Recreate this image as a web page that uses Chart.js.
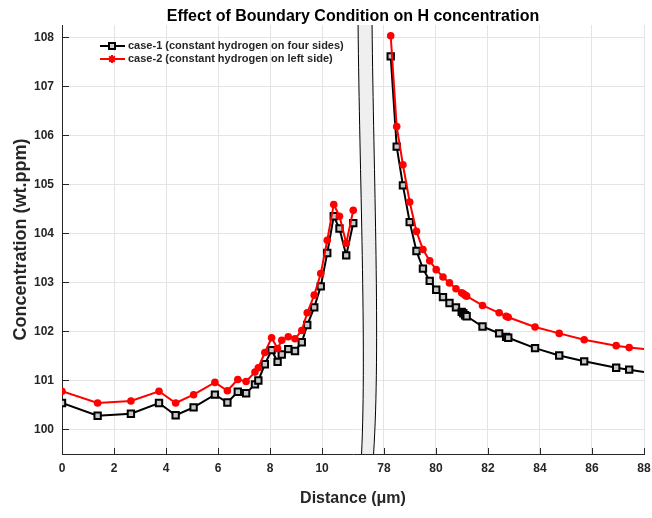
<!DOCTYPE html>
<html>
<head>
<meta charset="utf-8">
<script src="https://cdn.jsdelivr.net/npm/chart.js@4.4.1/dist/chart.umd.min.js"></script>
<style>
html,body{margin:0;padding:0;background:#fff;}
#wrap{width:652px;height:518px;position:relative;}
</style>
</head>
<body>
<div id="wrap"><canvas id="c" width="652" height="518"></canvas></div>
<script>
// ---- data ----
const distanceLeft = [0, 1.37, 2.65, 3.73, 4.37, 5.06, 5.88, 6.36, 6.76, 7.08, 7.42, 7.55, 7.8, 8.06, 8.29, 8.45, 8.7, 8.96, 9.22, 9.43, 9.7, 9.95, 10.2, 10.45, 10.67, 10.93, 11.2];
const case1Left = [100.54, 100.28, 100.32, 100.54, 100.29, 100.45, 100.71, 100.55, 100.77, 100.74, 100.92, 101.0, 101.33, 101.62, 101.38, 101.53, 101.64, 101.6, 101.78, 102.13, 102.49, 102.92, 103.6, 104.35, 104.1, 103.55, 104.21];
const case2Left = [100.78, 100.54, 100.58, 100.78, 100.54, 100.71, 100.96, 100.79, 101.02, 100.98, 101.17, 101.26, 101.57, 101.87, 101.65, 101.82, 101.89, 101.85, 102.02, 102.38, 102.74, 103.18, 103.86, 104.59, 104.35, 103.8, 104.47];

const distanceRight = [78.26, 78.49, 78.73, 78.99, 79.25, 79.5, 79.76, 80.01, 80.27, 80.52, 80.77, 80.99, 81.05, 81.12, 81.18, 81.79, 82.43, 82.7, 82.78, 83.81, 84.74, 85.7, 86.93, 87.43, 88.0];
const case1Right = [107.61, 105.77, 104.98, 104.23, 103.64, 103.28, 103.03, 102.85, 102.7, 102.58, 102.49, 102.4, 102.37, 102.33, 102.31, 102.1, 101.96, 101.89, 101.87, 101.66, 101.51, 101.39, 101.26, 101.22, 101.17];
const case2Right = [108.03, 106.18, 105.4, 104.64, 104.04, 103.67, 103.44, 103.26, 103.11, 102.99, 102.87, 102.79, 102.77, 102.74, 102.72, 102.53, 102.38, 102.31, 102.29, 102.09, 101.96, 101.83, 101.71, 101.67, 101.64];

const xTickLabels = [0, 2, 4, 6, 8, 10, 78, 80, 82, 84, 86, 88];
const yTickLabels = [100, 101, 102, 103, 104, 105, 106, 107, 108];
const seriesNames = ['case-1 (constant hydrogen on four sides)', 'case-2 (constant hydrogen on left side)'];
const chartTitle = 'Effect of Boundary Condition on H concentration';
const xTitle = 'Distance (\u03BCm)';
const yTitle = 'Concentration (wt.ppm)';

// ---- broken x axis: values beyond the break are shifted left ----
const BREAK_SHIFT = 65.62;
const BREAK_AT = 11.75;          // axis position of the break marker
const X_END = 88;
function toAxis(d) { return d > 40 ? d - BREAK_SHIFT : d; }
function fromAxis(v) { return v > 12 ? v + BREAK_SHIFT : v; }

function buildPoints(xl, yl, xr, yr) {
  const pts = xl.map((d, i) => ({x: toAxis(d), y: yl[i]}));
  pts.push({x: BREAK_AT, y: null});
  xr.forEach((d, i) => pts.push({x: toAxis(d), y: yr[i]}));
  return pts;
}
const pts1 = buildPoints(distanceLeft, case1Left, distanceRight, case1Right);
const pts2 = buildPoints(distanceLeft, case2Left, distanceRight, case2Right);
const hideEnd = (pts, r) => pts.map(p => (p.x >= toAxis(X_END) - 1e-6 ? 0 : r));

const FONT = "'Liberation Sans', Arial, Helvetica, sans-serif";
const AXIS_COLOR = '#262626';

const breakPlugin = {
  id: 'breakMark',
  afterDatasetsDraw(chart) {
    const {ctx, chartArea: a, scales: {x}} = chart;
    const c = x.getPixelForValue(BREAK_AT);
    const top = a.top, bot = a.bottom, h = bot - top;
    const L = [[-9.5, 0], [-8, 0.35], [-1, 0.75], [-6, 1]];
    const R = [[4.5, 0], [6, 0.35], [13, 0.75], [6, 1]];
    const P = (p) => [c + p[0], top + p[1] * h];
    ctx.save();
    ctx.beginPath();
    ctx.moveTo(...P(L[0]));
    ctx.bezierCurveTo(...P(L[1]), ...P(L[2]), ...P(L[3]));
    ctx.lineTo(...P(R[3]));
    ctx.bezierCurveTo(...P(R[2]), ...P(R[1]), ...P(R[0]));
    ctx.closePath();
    ctx.fillStyle = '#efefef';
    ctx.fill();
    ctx.lineWidth = 1;
    ctx.strokeStyle = '#000';
    ctx.beginPath();
    ctx.moveTo(...P(L[0]));
    ctx.bezierCurveTo(...P(L[1]), ...P(L[2]), ...P(L[3]));
    ctx.moveTo(...P(R[0]));
    ctx.bezierCurveTo(...P(R[1]), ...P(R[2]), ...P(R[3]));
    ctx.stroke();
    ctx.restore();
  }
};

const tickPlugin = {
  id: 'inwardTicks',
  afterDraw(chart) {
    const {ctx, chartArea: a, scales: {x, y}} = chart;
    ctx.save();
    ctx.strokeStyle = AXIS_COLOR;
    ctx.lineWidth = 1;
    ctx.beginPath();
    x.ticks.forEach(t => {
      const px = Math.round(x.getPixelForValue(t.value)) + 0.5;
      ctx.moveTo(px, a.bottom);
      ctx.lineTo(px, a.bottom - 6);
    });
    y.ticks.forEach(t => {
      const py = Math.round(y.getPixelForValue(t.value)) + 0.5;
      ctx.moveTo(a.left, py);
      ctx.lineTo(a.left + 7, py);
    });
    ctx.stroke();
    ctx.restore();
  }
};

const legendPlugin = {
  id: 'insideLegend',
  afterDraw(chart) {
    const {ctx} = chart;
    const x0 = 100, x1 = 125, tx = 128;
    const rows = [46, 59];
    ctx.save();
    ctx.font = 'bold 11px ' + FONT;
    ctx.textBaseline = 'middle';
    // case-1
    ctx.strokeStyle = '#000'; ctx.lineWidth = 2;
    ctx.beginPath(); ctx.moveTo(x0, rows[0]); ctx.lineTo(x1, rows[0]); ctx.stroke();
    ctx.fillStyle = '#d0d0d0'; ctx.lineWidth = 2;
    ctx.fillRect(x0 + 9, rows[0] - 3, 6, 6);
    ctx.strokeRect(x0 + 9, rows[0] - 3, 6, 6);
    // case-2
    ctx.strokeStyle = '#ff0000'; ctx.lineWidth = 2;
    ctx.beginPath(); ctx.moveTo(x0, rows[1]); ctx.lineTo(x1, rows[1]); ctx.stroke();
    const cx = x0 + 12, cy = rows[1];
    ctx.beginPath();
    for (let k = 0; k < 4; k++) {
      const ang = k * Math.PI / 4;
      ctx.moveTo(cx - 4 * Math.cos(ang), cy - 4 * Math.sin(ang));
      ctx.lineTo(cx + 4 * Math.cos(ang), cy + 4 * Math.sin(ang));
    }
    ctx.stroke();
    ctx.fillStyle = '#ff0000';
    ctx.beginPath(); ctx.arc(cx, cy, 2.2, 0, Math.PI * 2); ctx.fill();
    ctx.fillStyle = '#262626';
    ctx.fillText(seriesNames[0], tx, rows[0]);
    ctx.fillText(seriesNames[1], tx, rows[1]);
    ctx.restore();
  }
};

new Chart(document.getElementById('c'), {
  type: 'line',
  data: {
    datasets: [
      {
        label: seriesNames[0],
        data: pts1,
        borderColor: '#000000',
        borderWidth: 2,
        pointStyle: 'rect',
        pointRadius: hideEnd(pts1, 4.5),
        pointBorderWidth: 2,
        pointBorderColor: '#000000',
        pointBackgroundColor: '#c8c8c8',
        spanGaps: false,
        tension: 0,
        order: 2
      },
      {
        label: seriesNames[1],
        data: pts2,
        borderColor: '#ff0000',
        borderWidth: 2,
        pointStyle: 'circle',
        pointRadius: hideEnd(pts2, 3.8),
        pointBorderWidth: 0,
        pointBackgroundColor: '#ff0000',
        spanGaps: false,
        tension: 0,
        order: 1
      }
    ]
  },
  options: {
    responsive: false,
    animation: false,
    devicePixelRatio: 1,
    layout: {padding: {left: 0, right: 8, top: 0, bottom: 0}},
    plugins: {
      legend: {display: false},
      tooltip: {enabled: false},
      title: {
        display: true,
        text: chartTitle,
        fullSize: false,
        color: '#000',
        font: {family: FONT, size: 16, weight: 'bold', lineHeight: 1},
        padding: {top: 9, bottom: 0}
      }
    },
    scales: {
      x: {
        type: 'linear',
        min: 0,
        max: toAxis(X_END),
        afterBuildTicks(s) { s.ticks = xTickLabels.map(v => ({value: toAxis(v)})); },
        afterFit(s) { s.height = 64; s.paddingRight = 0; s.paddingLeft = 0; },
        ticks: {
          autoSkip: false, maxRotation: 0, padding: 7,
          color: AXIS_COLOR,
          font: {family: FONT, size: 12, weight: 'bold'},
          callback: (v) => String(Math.round(fromAxis(v)))
        },
        grid: {color: '#e4e4e4', lineWidth: 1, drawTicks: false},
        border: {color: AXIS_COLOR, width: 1},
        title: {
          display: true, text: xTitle, color: AXIS_COLOR,
          font: {family: FONT, size: 16, weight: 'bold'},
          padding: {top: 0, bottom: 10}
        }
      },
      y: {
        type: 'linear',
        min: 99.5,
        max: 108.25,
        afterBuildTicks(s) { s.ticks = yTickLabels.map(v => ({value: v})); },
        afterFit(s) { s.width = 62; s.paddingTop = 0; s.paddingBottom = 0; },
        ticks: {
          padding: 8,
          color: AXIS_COLOR,
          font: {family: FONT, size: 12, weight: 'bold'}
        },
        grid: {color: '#e4e4e4', lineWidth: 1, drawTicks: false},
        border: {color: AXIS_COLOR, width: 1},
        title: {
          display: true, text: yTitle, color: AXIS_COLOR,
          font: {family: FONT, size: 18, weight: 'bold'},
          padding: {top: 10, bottom: 0}
        }
      }
    }
  },
  plugins: [breakPlugin, tickPlugin, legendPlugin]
});
</script>
</body>
</html>
